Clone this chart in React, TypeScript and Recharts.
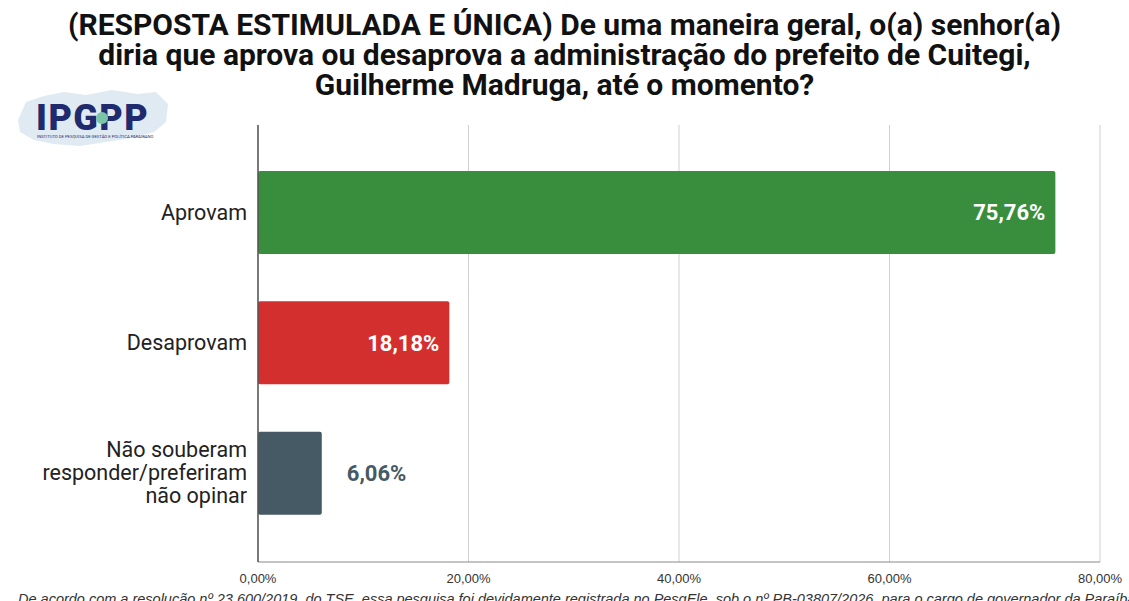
import React from 'react';
import { BarChart, Bar, XAxis, YAxis, CartesianGrid, Cell, LabelList } from 'recharts';

const categories = ['Aprovam', 'Desaprovam', 'Não souberam responder/preferiram não opinar'];
const categoryLines = [['Aprovam'], ['Desaprovam'], ['Não souberam', 'responder/preferiram', 'não opinar']];
const values = [75.76, 18.18, 6.06];
const colors = ['#388e3c', '#d32f2f', '#455a64'];
const xTicks = [0, 20, 40, 60, 80];
const titleLines = [
  '(RESPOSTA ESTIMULADA E ÚNICA) De uma maneira geral, o(a) senhor(a)',
  'diria que aprova ou desaprova a administração do prefeito de Cuitegi,',
  'Guilherme Madruga, até o momento?',
];
const footer =
  'De acordo com a resolução nº 23.600/2019, do TSE, essa pesquisa foi devidamente registrada no PesqEle, sob o nº PB-03807/2026, para o cargo de governador da Paraíba';

const data = categories.map((name, i) => ({ name, value: values[i], idx: i }));

const fmt = (v: number) => `${v.toFixed(2).replace('.', ',')}%`;

const CategoryTick = (props: any) => {
  const { x, y, index } = props;
  const lines = categoryLines[index] || [];
  const lh = 23;
  const start = y - ((lines.length - 1) * lh) / 2;
  return (
    <text x={x - 3} y={start} textAnchor="end" fontFamily="Roboto, sans-serif" fontSize={21.5} fill="#222">
      {lines.map((l, i) => (
        <tspan key={i} x={x - 3} y={start + i * lh} dy="0.35em">
          {l}
        </tspan>
      ))}
    </text>
  );
};

const ValueLabel = (props: any) => {
  const { x, y, width, height, value, index } = props;
  const inside = value > 15;
  const cy = y + height / 2;
  return (
    <text
      x={inside ? x + width - 10 : x + width + 25}
      y={cy}
      dy="0.35em"
      textAnchor={inside ? 'end' : 'start'}
      fontFamily="Roboto, sans-serif"
      fontWeight={700}
      fontSize={22}
      fill={inside ? '#ffffff' : colors[index]}
    >
      {fmt(value)}
    </text>
  );
};

const App = () => (
  <div style={{ position: 'fixed', left: 0, top: 0, width: 1129, height: 601, background: '#fff', overflow: 'hidden' }}>
    <div
      style={{
        position: 'absolute',
        left: 0,
        top: 10,
        width: 1129,
        textAlign: 'center',
        fontFamily: 'Roboto, Arial, sans-serif',
        fontWeight: 700,
        fontSize: 30,
        lineHeight: '30px',
        color: '#111',
      }}
    >
      {titleLines.map((l, i) => (
        <div key={i}>{l}</div>
      ))}
    </div>
    <svg style={{ position: 'absolute', left: 14, top: 86 }} width={160} height={64}>
      <path
        d="M4 34 L12 16 L30 10 L50 6 L72 9 L98 4 L124 8 L142 6 L154 18 L152 36 L140 46 L118 52 L92 56 L66 60 L40 58 L20 54 L6 46 Z"
        fill="#dfeaf2"
      />
      <text x={22} y={44} fontFamily="Roboto, Arial, sans-serif" fontWeight={900} fontSize={36} letterSpacing={1.5} fill="#1f2b6e">
        IPGPP
      </text>
      <circle cx={88} cy={32} r={6} fill="#7cc4a8" />
      <text x={23} y={52} fontFamily="Roboto, Arial, sans-serif" fontSize={4.2} fill="#1f2b6e">
        INSTITUTO DE PESQUISA DE GESTÃO E POLÍTICA PARAIBANO
      </text>
    </svg>
    <div style={{ position: 'absolute', left: 0, top: 0 }}>
      <BarChart
        width={1129}
        height={601}
        data={data}
        layout="vertical"
        margin={{ top: 125, right: 29, bottom: 9, left: 18 }}
      >
        <CartesianGrid horizontal={false} stroke="#d0d0d0" />
        <XAxis
          type="number"
          domain={[0, 80]}
          ticks={xTicks}
          tickFormatter={fmt}
          tickLine={false}
          height={30}
          axisLine={{ stroke: '#888' }}
          tick={{ fontFamily: '"Liberation Sans Narrow", Arial, sans-serif', fontSize: 13, fill: '#333' }}
          tickMargin={6}
          interval={0}
        />
        <YAxis
          type="category"
          dataKey="name"
          width={240}
          tickLine={false}
          axisLine={{ stroke: '#555', strokeWidth: 1.5 }}
          tick={<CategoryTick />}
          padding={{ top: 22, bottom: 24 }}
          interval={0}
        />
        <Bar dataKey="value" barSize={83} radius={2} isAnimationActive={false}>
          {data.map((d, i) => (
            <Cell key={i} fill={colors[i]} />
          ))}
          <LabelList dataKey="value" content={<ValueLabel />} />
        </Bar>
      </BarChart>
    </div>
    <div
      style={{
        position: 'absolute',
        left: 18,
        top: 591,
        whiteSpace: 'nowrap',
        fontFamily: 'Arial, "Liberation Sans", sans-serif',
        fontStyle: 'italic',
        fontSize: 14.5,
        color: '#333',
      }}
    >
      {footer}
    </div>
  </div>
);

export default App;
